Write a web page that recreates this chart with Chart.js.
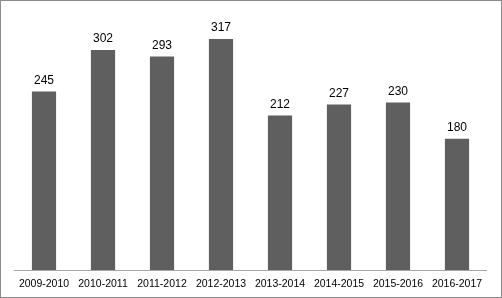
<!DOCTYPE html>
<html>
<head>
<meta charset="utf-8">
<script src="https://cdn.jsdelivr.net/npm/chart.js@4"></script>
<style>
  html, body { margin: 0; padding: 0; background: #fff; }
  #wrap {
    width: 502px; height: 298px;
    box-sizing: border-box;
    border: 1px solid #8c8c8c;
    position: relative;
  }
  canvas { display: block; }
</style>
</head>
<body>
<div id="wrap"><canvas id="chart" width="500" height="296"></canvas></div>
<script>
// 데이터
const seasons = ['2009-2010', '2010-2011', '2011-2012', '2012-2013',
                 '2013-2014', '2014-2015', '2015-2016', '2016-2017'];
const counts = [245, 302, 293, 317, 212, 227, 230, 180];

// 막대 위에 값 표시
const valueLabels = {
    id: 'valueLabels',
    afterDatasetsDraw(chart) {
        const ctx = chart.ctx;
        const meta = chart.getDatasetMeta(0);
        ctx.save();
        ctx.font = '12px Arial, "Liberation Sans", sans-serif';
        ctx.fillStyle = '#000';
        ctx.textAlign = 'center';
        ctx.textBaseline = 'bottom';
        meta.data.forEach((bar, i) => {
            ctx.fillText(counts[i], bar.x, bar.y - 5);
        });
        ctx.restore();
    }
};

new Chart(document.getElementById('chart'), {
    type: 'bar',
    data: {
        labels: seasons,
        datasets: [{
            data: counts,
            backgroundColor: '#5f5f5f',
            borderWidth: 0,
            categoryPercentage: 1,
            barPercentage: 0.41
        }]
    },
    options: {
        responsive: false,
        animation: false,
        layout: { padding: { left: 13.5, right: 14.5, top: 14, bottom: 0 } },
        plugins: {
            legend: { display: false },
            tooltip: { enabled: false }
        },
        scales: {
            x: {
                grid: { display: false, drawTicks: false },
                border: { color: '#a6a6a6', width: 1 },
                ticks: {
                    color: '#000',
                    padding: 8,
                    maxRotation: 0,
                    autoSkip: false,
                    font: { family: 'Arial, "Liberation Sans", sans-serif', size: 10.5 }
                },
                afterFit(scale) { scale.height = 27; }
            },
            y: {
                display: false,
                min: 0,
                max: 350
            }
        }
    },
    plugins: [valueLabels]
});
</script>
</body>
</html>
